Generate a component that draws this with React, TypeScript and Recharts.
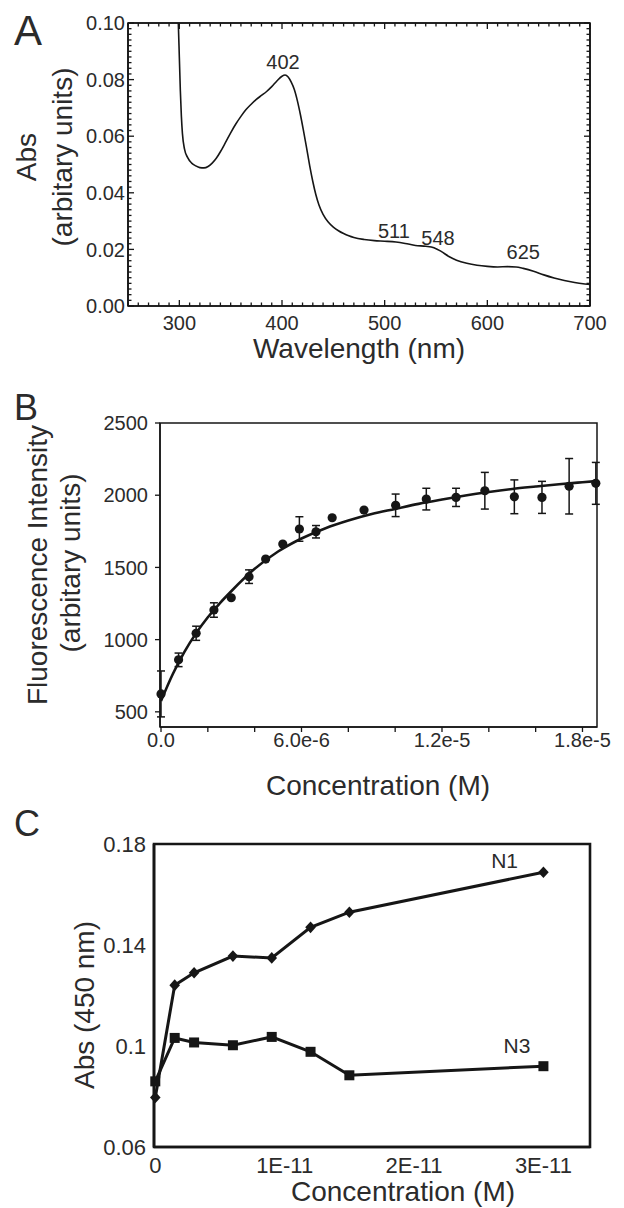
import React from 'react';
import { ComposedChart, Line, Scatter, ErrorBar, XAxis, YAxis, ReferenceDot, ReferenceArea } from 'recharts';

const FONT = '"Liberation Sans", Arial, Helvetica, sans-serif';
const INK = '#161616';
const TEXT = '#2b2b2b';

// ---------- A: absorption spectrum ----------
const wavelengthNm = [
  296, 299, 300, 301, 302, 303, 305, 308, 312, 316, 320, 324, 328, 332, 336, 340, 345, 350, 355, 360,
  365, 370, 375, 380, 385, 390, 395, 400, 403, 406, 409, 412, 415, 418, 421, 424, 427, 430, 433, 436,
  440, 445, 450, 455, 460, 465, 470, 480, 490, 500, 511, 520, 530, 540, 548, 555, 563, 570, 580, 590,
  600, 610, 620, 628, 635, 645, 655, 665, 675, 685, 695, 700,
];
const absorbance = [
  0.115, 0.1, 0.088, 0.076, 0.067, 0.061, 0.0555, 0.0525, 0.0505, 0.0495, 0.0489, 0.0488, 0.0493, 0.0505,
  0.0522, 0.0545, 0.0578, 0.0612, 0.0643, 0.067, 0.0694, 0.0713, 0.073, 0.0744, 0.0758, 0.0775, 0.0795,
  0.0812, 0.0816, 0.0809, 0.0791, 0.0765, 0.0725, 0.0675, 0.0618, 0.0558, 0.0495, 0.044, 0.0393, 0.0357,
  0.0324, 0.0297, 0.0279, 0.0266, 0.0256, 0.0248, 0.0242, 0.0235, 0.0231, 0.0229, 0.0226, 0.0221, 0.0214,
  0.0211, 0.0206, 0.0193, 0.0174, 0.0162, 0.0151, 0.0144, 0.014, 0.0138, 0.0139, 0.0138, 0.0133, 0.0123,
  0.011, 0.0099, 0.009, 0.0083, 0.0078, 0.0076,
];
const peakText = ['402', '511', '548', '625'];
const peakNm = [401, 509, 552, 635];
const peakTextAbs = [0.0838, 0.0242, 0.0217, 0.0165];
const aXMajor = [300, 400, 500, 600, 700];
const aYMajor = [0, 0.02, 0.04, 0.06, 0.08, 0.1];
const aXAll = Array.from({ length: 46 }, (_, i) => 250 + i * 10);
const aYAll = Array.from({ length: 51 }, (_, i) => +(i * 0.002).toFixed(3));

// ---------- B: fluorescence titration ----------
const bConc = [
  0, 0.75e-6, 1.5e-6, 2.26e-6, 3.0e-6, 3.76e-6, 4.47e-6, 5.2e-6, 5.91e-6, 6.62e-6, 7.31e-6, 8.67e-6,
  10.02e-6, 11.33e-6, 12.6e-6, 13.83e-6, 15.09e-6, 16.27e-6, 17.43e-6, 18.57e-6,
];
const bFluor = [
  624, 860, 1044, 1205, 1290, 1436, 1558, 1662, 1766, 1747, 1844, 1897, 1930, 1973, 1985, 2031, 1989,
  1985, 2062, 2082,
];
const bErr = [159, 47, 49, 50, 0, 47, 0, 0, 85, 43, 0, 0, 78, 75, 63, 127, 117, 111, 192, 145];
const bFitConc = [
  0, 0.5e-6, 1e-6, 1.5e-6, 2e-6, 2.5e-6, 3e-6, 4e-6, 5e-6, 6e-6, 7e-6, 8e-6, 9e-6, 10e-6, 11e-6, 12e-6,
  13e-6, 14e-6, 15e-6, 16e-6, 17e-6, 18e-6, 18.6e-6,
];
const bFitFluor = [
  575, 760, 915, 1045, 1155, 1250, 1335, 1490, 1610, 1700, 1770, 1825, 1870, 1905, 1940, 1970, 1998,
  2022, 2043, 2060, 2076, 2090, 2098,
];
const bXTicks = [0, 2e-6, 4e-6, 6e-6, 8e-6, 10e-6, 12e-6, 14e-6, 16e-6, 18e-6];
const bXLabelled = [0, 6e-6, 1.2e-5, 1.8e-5];
const bYTicks = [500, 1000, 1500, 2000, 2500];

// ---------- C: Abs 450 nm vs concentration ----------
const cConc = [0, 0.15e-11, 0.3e-11, 0.6e-11, 0.9e-11, 1.2e-11, 1.5e-11, 3.0e-11];
const n1Abs = [0.0796, 0.1241, 0.129, 0.1356, 0.1349, 0.147, 0.153, 0.1688];
const n3Abs = [0.086, 0.1032, 0.1014, 0.1003, 0.1036, 0.0977, 0.0884, 0.092];
const cXTicks = [0, 1e-11, 2e-11, 3e-11];
const cYTicks = [0.06, 0.1, 0.14, 0.18];

const A_X: [number, number] = [250, 700];
const A_Y: [number, number] = [0, 0.1];
const B_X: [number, number] = [-0.043e-6, 18.62e-6];
const B_Y: [number, number] = [395, 2500];
const C_X: [number, number] = [-0.01e-11, 3.36e-11];
const C_Y: [number, number] = [0.06, 0.18];

const spectrum = wavelengthNm.map((x, i) => ({ x, y: absorbance[i] }));
const bPoints = bConc.map((x, i) => ({ x, y: bFluor[i], err: bErr[i] }));
const bFit = bFitConc.map((x, i) => ({ x, y: bFitFluor[i] }));
const cRows = cConc.map((x, i) => ({ x, n1: n1Abs[i], n3: n3Abs[i] }));

const same = (a: number, b: number) =>
  Math.abs(a - b) <= 1e-9 * Math.max(1e-12, Math.abs(a), Math.abs(b));

type Side = 'bottom' | 'top' | 'left' | 'right';
interface TickCfg {
  side: Side;
  labelled?: number[];
  longAt?: number[];
  long?: number;
  short?: number;
  inward?: boolean;
  gap?: number;
  size?: number;
  fmt?: (v: number) => string;
}

// one tick = optional tick mark + optional label, so minor ticks can share the axis
function axisTick(cfg: TickCfg) {
  const {
    side,
    labelled = [],
    longAt,
    long = 0,
    short = 0,
    inward = false,
    gap = 0,
    size = 20,
    fmt = (v: number) => String(v),
  } = cfg;
  return (p: any) => {
    const x = Number(p.x);
    const y = Number(p.y);
    const v = Number(p.payload?.value);
    const len = !longAt || longAt.some((m) => same(m, v)) ? long : short;
    const out = inward ? -1 : 1;
    const hasLabel = labelled.some((m) => same(m, v));
    const txt = { fill: TEXT, fontSize: size, fontFamily: FONT, stroke: 'none' };
    const mark = { fill: INK, stroke: 'none' };
    if (side === 'bottom' || side === 'top') {
      const d = side === 'bottom' ? out : -out;
      const y0 = d > 0 ? y : y - len;
      return (
        <g>
          {len > 0 && <rect x={x - 0.65} y={y0} width={1.3} height={len} {...mark} />}
          {hasLabel && (
            <text x={x} y={y + gap} textAnchor="middle" {...txt}>
              {fmt(v)}
            </text>
          )}
        </g>
      );
    }
    const d = side === 'left' ? -out : out;
    const x0 = d > 0 ? x : x - len;
    return (
      <g>
        {len > 0 && <rect x={x0} y={y - 0.65} width={len} height={1.3} {...mark} />}
        {hasLabel && (
          <text x={x - gap} y={y} dy="0.36em" textAnchor="end" {...txt}>
            {fmt(v)}
          </text>
        )}
      </g>
    );
  };
}

const axisBase = { tickSize: 0, tickMargin: 0, tickLine: false, interval: 0 as const };

// plot frame drawn from the axis domains (closes the box on the top and right)
const frame = (x: [number, number], y: [number, number], w: number) => (
  <ReferenceArea
    x1={x[0]}
    x2={x[1]}
    y1={y[0]}
    y2={y[1]}
    fill="none"
    fillOpacity={0}
    stroke={INK}
    strokeWidth={w}
    ifOverflow="visible"
  />
);

function PanelA() {
  const line = { stroke: INK, strokeWidth: 1.6 };
  return (
    <ComposedChart width={624} height={360} data={spectrum} margin={{ top: 22, right: 33, bottom: 14, left: 0 }}>
      <XAxis
        {...axisBase}
        dataKey="x"
        type="number"
        domain={A_X}
        ticks={aXAll}
        height={40}
        axisLine={line}
        tick={axisTick({ side: 'bottom', labelled: aXMajor, longAt: aXMajor, long: 6, short: 3.5, inward: true, gap: 24 })}
      />
      <XAxis
        {...axisBase}
        xAxisId="top"
        dataKey="x"
        orientation="top"
        type="number"
        domain={A_X}
        allowDataOverflow
        ticks={aXAll}
        height={1}
        axisLine={line}
        tick={axisTick({ side: 'top', longAt: aXMajor, long: 6, short: 3.5, inward: true })}
      />
      <YAxis
        {...axisBase}
        type="number"
        domain={A_Y}
        allowDataOverflow
        ticks={aYAll}
        width={128}
        axisLine={line}
        tick={axisTick({
          side: 'left',
          labelled: aYMajor,
          longAt: aYMajor,
          long: 6,
          short: 3.5,
          inward: true,
          gap: 3,
          fmt: (v) => v.toFixed(2),
        })}
      />
      <YAxis
        {...axisBase}
        yAxisId="right"
        orientation="right"
        type="number"
        domain={A_Y}
        allowDataOverflow
        ticks={aYAll}
        width={1}
        axisLine={line}
        tick={axisTick({ side: 'right', longAt: aYMajor, long: 6, short: 3.5, inward: true })}
      />
      {frame(A_X, A_Y, 1.6)}
      <Line
        xAxisId="top"
        yAxisId="right"
        dataKey="y"
        stroke="none"
        dot={false}
        activeDot={false}
        isAnimationActive={false}
      />
      <Line type="monotone" dataKey="y" stroke={INK} strokeWidth={1.6} dot={false} isAnimationActive={false} />
      {peakText.map((t, i) => (
        <ReferenceDot
          key={t}
          x={peakNm[i]}
          y={peakTextAbs[i]}
          r={0}
          fill="none"
          stroke="none"
          label={{ value: t, position: 'top', offset: 0, fill: TEXT, fontSize: 20, fontFamily: FONT }}
        />
      ))}
    </ComposedChart>
  );
}

function PanelB() {
  const line = { stroke: INK, strokeWidth: 1.5 };
  return (
    <ComposedChart width={624} height={400} margin={{ top: 43, right: 27, bottom: 13, left: 0 }}>
      <XAxis
        {...axisBase}
        dataKey="x"
        type="number"
        domain={B_X}
        ticks={bXTicks}
        height={40}
        axisLine={line}
        tick={axisTick({
          side: 'bottom',
          labelled: bXLabelled,
          long: 5,
          gap: 20,
          fmt: (v) => (v === 0 ? '0.0' : v.toExponential(1)),
        })}
      />
      <YAxis
        {...axisBase}
        dataKey="y"
        type="number"
        domain={B_Y}
        ticks={bYTicks}
        width={160}
        axisLine={line}
        tick={axisTick({ side: 'left', labelled: bYTicks, long: 5, gap: 12 })}
      />
      {frame(B_X, B_Y, 1.5)}
      <Line data={bFit} type="monotone" dataKey="y" stroke={INK} strokeWidth={2.6} dot={false} isAnimationActive={false} />
      <Scatter
        data={bPoints}
        dataKey="y"
        isAnimationActive={false}
        shape={(p: any) => <circle cx={p.cx} cy={p.cy} r={4.6} fill={INK} />}
      >
        <ErrorBar dataKey="err" direction="y" width={4} stroke={INK} strokeWidth={1.5} isAnimationActive={false} />
      </Scatter>
    </ComposedChart>
  );
}

const Diamond = ({ cx, cy }: { cx: number; cy: number }) => (
  <path d={`M${cx},${cy - 5.8}L${cx + 5.3},${cy}L${cx},${cy + 5.8}L${cx - 5.3},${cy}Z`} fill={INK} />
);
const Square = ({ cx, cy }: { cx: number; cy: number }) => (
  <rect x={cx - 5} y={cy - 5} width={10} height={10} fill={INK} />
);

function PanelC() {
  const line = { stroke: INK, strokeWidth: 2.6 };
  return (
    <ComposedChart width={624} height={408} data={cRows} margin={{ top: 44, right: 34, bottom: 21, left: 0 }}>
      <XAxis
        {...axisBase}
        dataKey="x"
        type="number"
        domain={C_X}
        ticks={cXTicks}
        height={40}
        axisLine={line}
        tick={axisTick({
          side: 'bottom',
          labelled: cXTicks,
          gap: 26,
          size: 22,
          fmt: (v) => (v === 0 ? '0' : `${Math.round(v / 1e-11)}E-11`),
        })}
      />
      <YAxis
        {...axisBase}
        type="number"
        domain={C_Y}
        ticks={cYTicks}
        width={154}
        axisLine={line}
        tick={axisTick({
          side: 'left',
          labelled: cYTicks,
          gap: 8,
          size: 22,
          fmt: (v) => String(Number(v.toFixed(2))),
        })}
      />
      {frame(C_X, C_Y, 2.6)}
      <Line
        type="linear"
        dataKey="n1"
        stroke={INK}
        strokeWidth={3}
        isAnimationActive={false}
        dot={(p: any) => <Diamond key={`n1-${p.index}`} cx={p.cx} cy={p.cy} />}
      />
      <Line
        type="linear"
        dataKey="n3"
        stroke={INK}
        strokeWidth={3}
        isAnimationActive={false}
        dot={(p: any) => <Square key={`n3-${p.index}`} cx={p.cx} cy={p.cy} />}
      />
      <ReferenceDot
        x={2.7e-11}
        y={0.1705}
        r={0}
        fill="none"
        stroke="none"
        label={{ value: 'N1', position: 'top', offset: 0, fill: TEXT, fontSize: 21, fontFamily: FONT }}
      />
      <ReferenceDot
        x={2.795e-11}
        y={0.0971}
        r={0}
        fill="none"
        stroke="none"
        label={{ value: 'N3', position: 'top', offset: 0, fill: TEXT, fontSize: 21, fontFamily: FONT }}
      />
    </ComposedChart>
  );
}

function Titles() {
  const t = { fill: TEXT, fontFamily: FONT };
  const rot = (s: string, bx: number, cy: number, size = 28) => (
    <text key={s + bx} x={bx} y={cy} transform={`rotate(-90 ${bx} ${cy})`} textAnchor="middle" fontSize={size} {...t}>
      {s}
    </text>
  );
  return (
    <svg width={624} height={1208} style={{ position: 'absolute', left: 0, top: 0, pointerEvents: 'none' }}>
      <text x={14} y={45} fontSize={42} {...t}>A</text>
      <text x={14} y={420} fontSize={36} {...t}>B</text>
      <text x={14} y={836} fontSize={36} {...t}>C</text>
      {rot('Abs', 36, 157)}
      {rot('(arbitary units)', 72, 157)}
      {rot('Fluorescence Intensity', 47, 565)}
      {rot('(arbitary units)', 80, 563)}
      {rot('Abs (450 nm)', 94, 1005)}
      <text x={359} y={358} textAnchor="middle" fontSize={28} {...t}>Wavelength (nm)</text>
      <text x={378} y={795} textAnchor="middle" fontSize={28} {...t}>Concentration (M)</text>
      <text x={403} y={1201} textAnchor="middle" fontSize={28} {...t}>Concentration (M)</text>
    </svg>
  );
}

export default function App() {
  return (
    <div style={{ position: 'absolute', left: 0, top: 0, width: 624, height: 1208, background: '#fff', fontFamily: FONT }}>
      <div style={{ position: 'absolute', left: 0, top: 0 }}>
        <PanelA />
      </div>
      <div style={{ position: 'absolute', left: 0, top: 380 }}>
        <PanelB />
      </div>
      <div style={{ position: 'absolute', left: 0, top: 800 }}>
        <PanelC />
      </div>
      <Titles />
    </div>
  );
}
